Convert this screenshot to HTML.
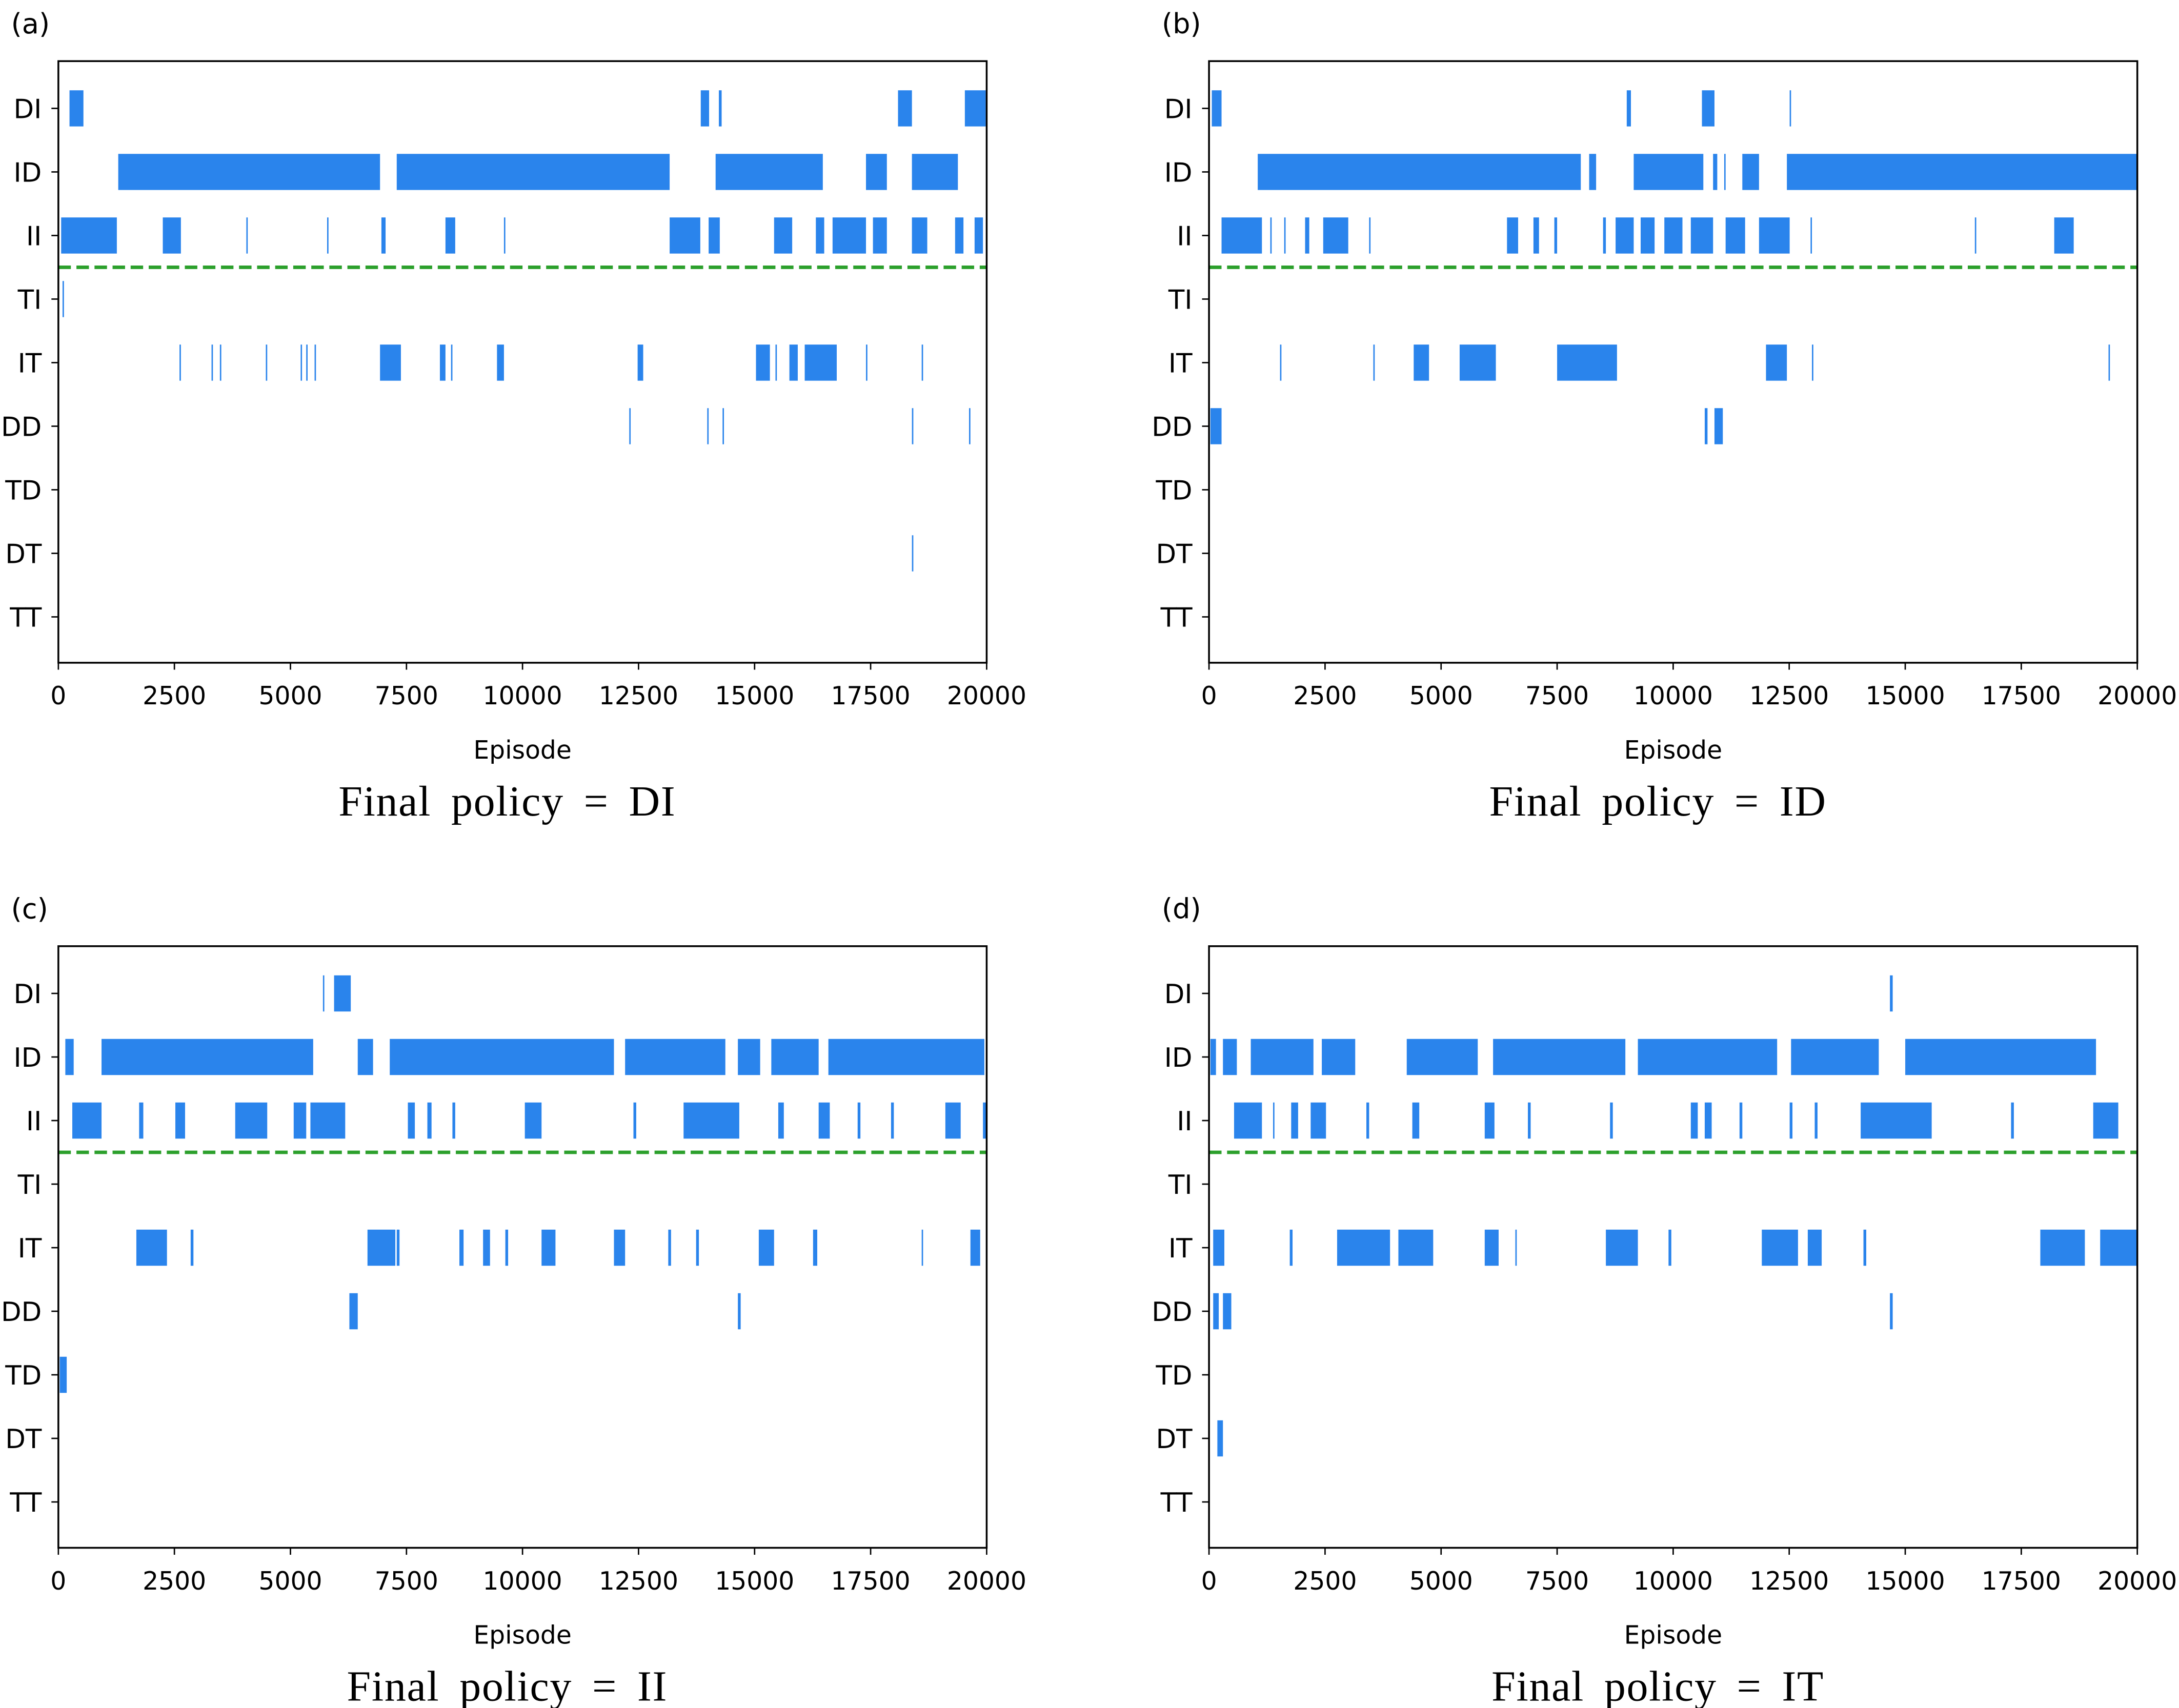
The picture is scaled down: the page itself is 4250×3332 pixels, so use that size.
<!DOCTYPE html>
<html><head><meta charset="utf-8"><style>
html,body{margin:0;padding:0;background:#fff;width:4250px;height:3332px;overflow:hidden}
svg{display:block}
</style></head><body>
<svg id="fig" xmlns="http://www.w3.org/2000/svg" width="4250" height="3332" viewBox="0 0 1568 1229.3" preserveAspectRatio="none"></svg>
<script>
const rows = ["DI","ID","II","TI","IT","DD","TD","DT","TT"];
const xTicks = [0,2500,5000,7500,10000,12500,15000,17500,20000];
const panelLabels = ["(a)","(b)","(c)","(d)"];
const captions = ["Final policy = DI","Final policy = ID","Final policy = II","Final policy = IT"];
const aDI=[[240,540],[13840,14020],[14230,14290],[18090,18390],[19530,19980]];
const aID=[[1290,6930],[7290,13170],[14160,16470],[17400,17850],[18390,19380]];
const aII=[[60,1260],[2250,2640],[4050,4080],[5790,5820],[6960,7050],[8340,8550],[9600,9630],[13170,13830],[14010,14250],[15420,15810],[16320,16500],[16680,17400],[17550,17850],[18390,18720],[19320,19500],[19740,19920]];
const aTI=[[90,120]];
const aIT=[[2610,2640],[3300,3330],[3480,3510],[4470,4500],[5220,5250],[5340,5370],[5520,5550],[6930,7380],[8220,8340],[8460,8490],[9450,9600],[12480,12600],[15030,15330],[15450,15480],[15750,15930],[16080,16770],[17400,17430],[18600,18630]];
const aDD=[[12300,12330],[13980,14010],[14310,14340],[18390,18420],[19620,19650]];
const aDT=[[18390,18420]];
const bDI=[[60,270],[9000,9090],[10620,10890],[12510,12540]];
const bID=[[1050,8010],[8190,8340],[9150,10650],[10860,10950],[11100,11130],[11490,11850],[12450,20000]];
const bII=[[270,1140],[1320,1350],[1620,1650],[2070,2160],[2460,3000],[3450,3480],[6420,6660],[6990,7110],[7440,7500],[8490,8550],[8760,9150],[9300,9600],[9810,10200],[10380,10860],[11130,11550],[11850,12510],[12960,12990],[16500,16530],[18210,18630]];
const bIT=[[1530,1560],[3540,3570],[4410,4740],[5400,6180],[7500,8790],[12000,12450],[12990,13020],[19380,19410]];
const bDD=[[30,270],[10680,10740],[10890,11070]];
const cDI=[[5700,5730],[5940,6300]];
const cID=[[150,330],[930,5490],[6450,6780],[7140,11970],[12210,14370],[14640,15120],[15360,16380],[16590,19950]];
const cII=[[300,930],[1740,1830],[2520,2730],[3810,4500],[5070,5340],[5430,6180],[7530,7680],[7950,8040],[8490,8550],[10050,10410],[12390,12450],[13470,14670],[15510,15630],[16380,16620],[17220,17280],[17940,18000],[19110,19440],[19920,20000]];
const cIT=[[1680,2340],[2850,2910],[6660,7260],[7290,7350],[8640,8730],[9150,9300],[9630,9690],[10410,10710],[11970,12210],[13140,13200],[13740,13800],[15090,15420],[16260,16350],[18600,18630],[19650,19860]];
const cDD=[[6270,6450],[14640,14700]];
const cTD=[[30,180]];
const dDI=[[14670,14730]];
const dID=[[30,150],[300,600],[900,2250],[2430,3150],[4260,5790],[6120,8970],[9240,12240],[12540,14430],[15000,19110]];
const dII=[[540,1140],[1380,1410],[1770,1920],[2190,2520],[3390,3450],[4380,4530],[5940,6150],[6870,6930],[8640,8700],[10380,10530],[10680,10830],[11430,11490],[12510,12570],[13050,13110],[14040,15570],[17280,17340],[19050,19590]];
const dIT=[[90,330],[1740,1800],[2760,3900],[4080,4830],[5940,6240],[6600,6630],[8550,9240],[9900,9960],[11910,12690],[12900,13200],[14100,14160],[17910,18870],[19200,20000]];
const dDD=[[90,210],[300,480],[14670,14730]];
const dDT=[[180,300]];
const panelData = [
 {DI:aDI,ID:aID,II:aII,TI:aTI,IT:aIT,DD:aDD,DT:aDT},
 {DI:bDI,ID:bID,II:bII,IT:bIT,DD:bDD},
 {DI:cDI,ID:cID,II:cII,IT:cIT,DD:cDD,TD:cTD},
 {DI:dDI,ID:dID,II:dII,IT:dIT,DD:dDD,DT:dDT}
];
const NS="http://www.w3.org/2000/svg";
const svg=document.getElementById('fig');
function mk(tag,attrs,parent){const e=document.createElementNS(NS,tag);for(const k in attrs)e.setAttribute(k,attrs[k]);(parent||svg).appendChild(e);return e;}
const origins=[[42,44],[870,44],[42,681],[870,681]];
const W=668,H=433;
origins.forEach((o,pi)=>{
  const [x0,y0]=o;
  const g=mk('g',{});
  
  
  const xs=v=>x0+v/20000*W;
  const ys=i=>y0+34+i*45.75;
  const data=panelData[pi];
  rows.forEach((r,ri)=>{
    (data[r]||[]).forEach(iv=>{
      const x1=xs(iv[0]),x2=xs(iv[1]);
      const rc=mk('rect',{x:x1,y:ys(ri)-13,width:Math.max(x2-x1,0.9),height:26,fill:'#2a84ec'},g);
      
      
    });
    mk('line',{x1:x0-5,x2:x0,y1:ys(ri),y2:ys(ri),stroke:'#000','stroke-width':1},g);
    const lb=mk('text',{x:x0-12,y:ys(ri)+7,'text-anchor':'end','font-size':19,'font-family':'DejaVu Sans, Liberation Sans, sans-serif'},g);
    lb.textContent=r;
    
    
  });
  const dl=mk('line',{x1:x0,x2:x0+W,y1:ys(2.5),y2:ys(2.5),stroke:'#2ca02c','stroke-width':2.5,'stroke-dasharray':'9,4'},g);
  
  
  const fr=mk('rect',{x:x0,y:y0,width:W,height:H,fill:'none',stroke:'#000','stroke-width':1.3},g);
  
  
  xTicks.forEach(v=>{
    mk('line',{x1:xs(v),x2:xs(v),y1:y0+H,y2:y0+H+5,stroke:'#000','stroke-width':1},g);
    const tl=mk('text',{x:xs(v),y:y0+H+30,'text-anchor':'middle','font-size':18,'font-family':'DejaVu Sans, Liberation Sans, sans-serif'},g);
    tl.textContent=v;
    
    
  });
  const xt=mk('text',{x:x0+W/2,y:y0+H+69,'text-anchor':'middle','font-size':18,'font-family':'DejaVu Sans, Liberation Sans, sans-serif'},g);
  xt.textContent='Episode';
  
  
  const cp=mk('text',{x:x0+W/2-11,y:y0+H+110,'text-anchor':'middle','font-size':31,'word-spacing':'6','letter-spacing':'0.6','font-family':'Liberation Serif, DejaVu Serif, serif'},g);
  cp.textContent=captions[pi];
  
  
  const pl=mk('text',{x:x0-34,y:y0-20,'font-size':20,'font-family':'DejaVu Sans, Liberation Sans, sans-serif'},g);
  pl.textContent=panelLabels[pi];
  
  
});
</script>
</body></html>
